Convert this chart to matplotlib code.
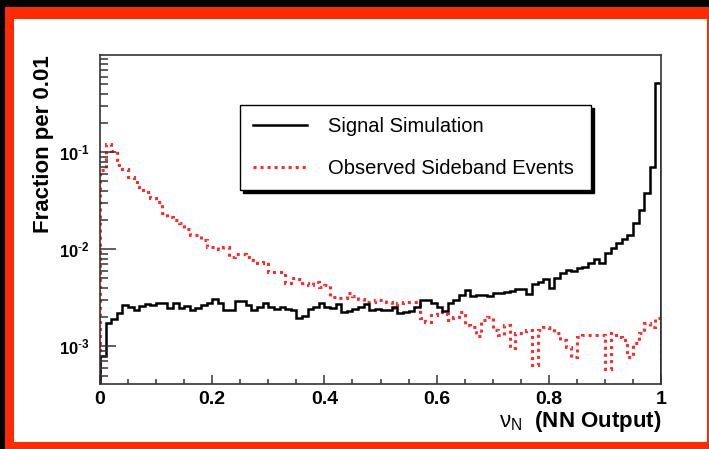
import numpy as np
import matplotlib.pyplot as plt
from matplotlib.lines import Line2D
from matplotlib.patches import Rectangle
from matplotlib.ticker import MultipleLocator, LogLocator, NullFormatter

plt.rcParams['font.family'] = ['Liberation Sans', 'DejaVu Sans']
plt.rcParams['mathtext.fontset'] = 'custom'
plt.rcParams['mathtext.rm'] = 'Liberation Sans'
plt.rcParams['mathtext.bf'] = 'Liberation Sans:bold'
plt.rcParams['mathtext.it'] = 'Liberation Sans:italic'

# 100 bins of width 0.01 on the NN output
bin_edges = np.linspace(0.0, 1.0, 101)

# fraction per bin
signal_sim = [
    8.0e-4, 1.76e-3, 1.91e-3, 2.23e-3, 2.68e-3, 2.57e-3, 2.38e-3, 2.61e-3, 2.74e-3, 2.68e-3,
    2.79e-3, 2.79e-3, 2.48e-3, 2.83e-3, 2.48e-3, 2.61e-3, 2.38e-3, 2.48e-3, 2.68e-3, 2.79e-3,
    3.06e-3, 2.79e-3, 2.38e-3, 2.38e-3, 2.96e-3, 2.96e-3, 2.68e-3, 2.38e-3, 2.54e-3, 2.83e-3,
    2.57e-3, 2.42e-3, 2.54e-3, 2.45e-3, 2.38e-3, 1.95e-3, 2.06e-3, 2.42e-3, 2.57e-3, 2.83e-3,
    2.54e-3, 2.48e-3, 2.74e-3, 2.28e-3, 2.34e-3, 2.42e-3, 2.57e-3, 2.74e-3, 2.38e-3, 2.45e-3,
    2.38e-3, 2.38e-3, 2.57e-3, 2.20e-3, 2.28e-3, 2.34e-3, 2.54e-3, 3.01e-3, 3.01e-3, 2.83e-3,
    2.57e-3, 2.34e-3, 2.79e-3, 3.01e-3, 3.39e-3, 3.82e-3, 3.31e-3, 3.39e-3, 3.39e-3, 3.31e-3,
    3.53e-3, 3.58e-3, 3.64e-3, 3.76e-3, 3.88e-3, 3.88e-3, 3.48e-3, 4.40e-3, 4.65e-3, 4.99e-3,
    3.97e-3, 5.04e-3, 5.75e-3, 6.12e-3, 6.03e-3, 6.38e-3, 6.53e-3, 7.18e-3, 7.89e-3, 7.28e-3,
    9.10e-3, 1.02e-2, 1.17e-2, 1.27e-2, 1.40e-2, 1.85e-2, 2.54e-2, 3.82e-2, 6.97e-2, 0.515,
]

sideband_obs = [
    6.53e-2, 0.121, 0.103, 7.35e-2, 6.64e-2, 5.57e-2, 4.95e-2, 4.07e-2, 3.91e-2, 3.34e-2,
    3.08e-2, 2.34e-2, 2.16e-2, 2.00e-2, 1.88e-2, 1.61e-2, 1.40e-2, 1.40e-2, 1.25e-2, 1.06e-2,
    1.06e-2, 1.00e-2, 1.06e-2, 8.39e-3, 8.95e-3, 8.95e-3, 8.39e-3, 7.76e-3, 7.18e-3, 7.46e-3,
    5.89e-3, 5.89e-3, 5.89e-3, 4.51e-3, 5.04e-3, 4.92e-3, 4.48e-3, 4.30e-3, 4.65e-3, 4.13e-3,
    4.30e-3, 3.26e-3, 3.13e-3, 3.13e-3, 3.58e-3, 3.31e-3, 3.06e-3, 2.89e-3, 2.89e-3, 3.01e-3,
    3.01e-3, 2.87e-3, 2.49e-3, 2.81e-3, 2.87e-3, 2.87e-3, 2.87e-3, 1.97e-3, 1.79e-3, 2.11e-3,
    2.27e-3, 2.16e-3, 1.88e-3, 2.01e-3, 2.27e-3, 1.67e-3, 1.59e-3, 1.29e-3, 1.88e-3, 2.01e-3,
    1.48e-3, 1.32e-3, 1.67e-3, 9.7e-4, 1.38e-3, 1.38e-3, 1.48e-3, 6.5e-4, 1.48e-3, 1.59e-3,
    1.55e-3, 1.38e-3, 1.17e-3, 9.9e-4, 7.8e-4, 1.26e-3, 1.32e-3, 1.32e-3, 1.32e-3, 1.32e-3,
    5.8e-4, 1.38e-3, 1.26e-3, 1.17e-3, 7.8e-4, 1.09e-3, 1.38e-3, 1.75e-3, 1.59e-3, 1.97e-3,
]

x_ticks = [0.0, 0.2, 0.4, 0.6, 0.8, 1.0]
x_ticklabels = ['0', '0.2', '0.4', '0.6', '0.8', '1']
y_ticks = [1e-3, 1e-2, 1e-1]
y_ticklabels = [r'$\mathbf{10^{\text{-}3}}$', r'$\mathbf{10^{\text{-}2}}$',
                r'$\mathbf{10^{\text{-}1}}$']

sig_color = 'black'
obs_color = '#ff2a2a'
obs_dash = (0, (1, 1.3))

W, H = 709, 449
fig = plt.figure(figsize=(W / 100, H / 100), dpi=100, facecolor='black')
# red frame and white panel, like the slide the plot was taken from
fig.add_artist(Rectangle((5 / W, 0), (W - 5) / W, (H - 7) / H, transform=fig.transFigure,
                         facecolor='#ff2a00', edgecolor='none', zorder=-2))
fig.add_artist(Rectangle((14 / W, 7 / H), 693 / W, 423 / H, transform=fig.transFigure,
                         facecolor='white', edgecolor='none', zorder=-1))

ax = fig.add_axes([100 / W, 65 / H, 561 / W, 329 / H])
ax.set_facecolor('white')

ax.stairs(sideband_obs, bin_edges, color=obs_color, lw=2.2, linestyle=obs_dash)
ax.stairs(signal_sim, bin_edges, color=sig_color, lw=1.8)

ax.set_yscale('log')
ax.set_xlim(0, 1)
ax.set_ylim(4.1e-4, 1.0)

ax.set_xticks(x_ticks)
ax.set_xticklabels(x_ticklabels)
ax.xaxis.set_minor_locator(MultipleLocator(0.05))
ax.set_yticks(y_ticks)
ax.set_yticklabels(y_ticklabels)
ax.yaxis.set_minor_locator(LogLocator(base=10, subs=np.arange(2, 10)))
ax.yaxis.set_minor_formatter(NullFormatter())

ax.tick_params(axis='x', which='major', direction='in', length=6.5, width=1.1, pad=5,
               labelsize=14, color='#333333')
ax.tick_params(axis='x', which='minor', direction='in', length=3.6, width=1.1, color='#333333')
ax.tick_params(axis='y', which='major', direction='in', length=11.5, width=1.1, pad=7.5,
               labelsize=12, color='#333333')
ax.tick_params(axis='y', which='minor', direction='in', length=6, width=1.1, color='#333333')
for lab in ax.get_xticklabels():
    lab.set_fontweight('bold')

for sp in ax.spines.values():
    sp.set_linewidth(1.2)
    sp.set_color('#333333')

ax.set_ylabel('Fraction per 0.01', loc='top', fontsize=16, fontweight='bold')
ax.yaxis.set_label_coords(-0.082, 1.0)
ax.set_xlabel(r'$\mathrm{\nu_{N}}$  (NN Output)', loc='right', fontsize=16,
              fontweight='bold', labelpad=1)

handles = [Line2D([], [], color=sig_color, lw=1.8),
           Line2D([], [], color=obs_color, lw=2.2, linestyle=obs_dash)]
leg = ax.legend(handles, ['Signal Simulation', 'Observed Sideband Events'],
                loc='upper left', bbox_to_anchor=(0.2496, 0.596, 0.6255, 0.252),
                mode='expand', borderaxespad=0, fontsize=14.5, fancybox=False,
                shadow={'color': 'black', 'alpha': 1}, edgecolor='black', framealpha=1,
                handlelength=2.7, handletextpad=1.05, labelspacing=1.1, borderpad=0.62)
leg.get_frame().set_linewidth(1.0)

fig.savefig('out.png', dpi=100, facecolor=fig.get_facecolor())
